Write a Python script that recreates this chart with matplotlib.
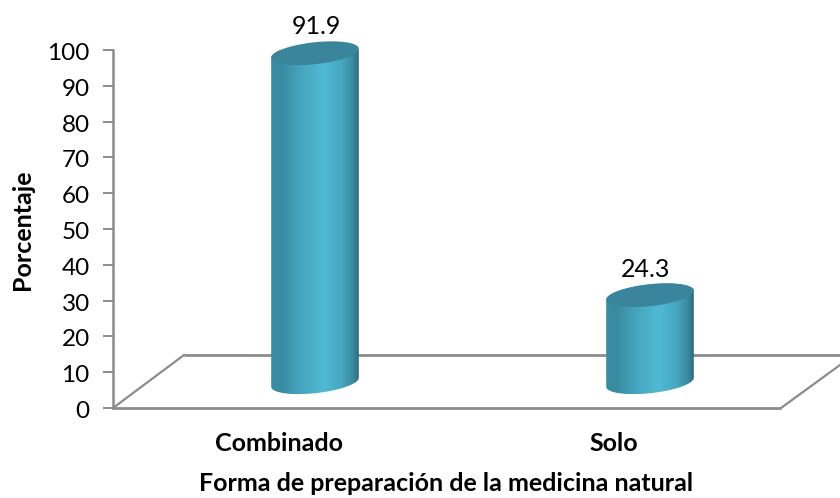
import numpy as np
import matplotlib
matplotlib.use("Agg")
import matplotlib.pyplot as plt
from matplotlib.patches import Polygon
from matplotlib.colors import LinearSegmentedColormap
from matplotlib.transforms import ScaledTranslation

categories = ["Combinado", "Solo"]
values = [91.9, 24.3]
y_ticks = list(range(0, 101, 10))
x_title = "Forma de preparación de la medicina natural"
y_title = "Porcentaje"

W, H = 840, 498
plt.rcParams['font.family'] = ['Lato', 'DejaVu Sans']
fig = plt.figure(figsize=(W / 100, H / 100), dpi=100)
L, R, T, B = 113, 840, 50, 408
ax = fig.add_axes([L / W, 1 - B / H, (R - L) / W, (B - T) / H])
PX = 335.0                # pixels per category
PY = (B - T) / 100.0      # pixels per unit
x0 = -(315 - L) / PX
x1 = (R - 315) / PX
ax.set_xlim(x0, x1)
ax.set_ylim(0, 100)
ax.patch.set_alpha(0)

def px(x):
    return x0 + (x - L) / PX

def py(y):
    return (B - y) / PY

# floor of the 3D box
grey = "#8c8c8c"
lw = 1.6
ax.plot([px(113), px(781)], [py(408), py(408)], color=grey, lw=2.0, clip_on=False, zorder=1, solid_capstyle='butt')
ax.plot([px(113), px(184)], [py(408), py(355)], color=grey, lw=lw, clip_on=False, zorder=1)
ax.plot([px(184), px(840)], [py(355), py(355)], color=grey, lw=2.0, clip_on=False, zorder=1, solid_capstyle='butt')
ax.plot([px(781), px(840)], [py(408), py(365)], color=grey, lw=lw, clip_on=False, zorder=1)

for s in ["top", "right", "bottom"]:
    ax.spines[s].set_visible(False)
ax.spines["left"].set_color(grey)
ax.spines["left"].set_linewidth(1.8)
ax.set_yticks(y_ticks)
ax.tick_params(axis='y', length=7, width=1.4, color=grey, labelsize=17.5, pad=9, labelcolor="black")
shift = ScaledTranslation(-1 / 100, -1.5 / 100, fig.dpi_scale_trans)
for lab in ax.get_yticklabels():
    lab.set_transform(lab.get_transform() + shift)
ax.set_xticks([i - 36 / PX for i in range(len(categories))])
ax.set_xticklabels(categories, fontsize=18, fontweight='bold')
ax.tick_params(axis='x', length=0, pad=17)

fig.text(22 / W, 1 - 230 / H, y_title, rotation=90, ha='center', va='center', fontsize=18, fontweight='bold')
fig.text(446 / W, 1 - 483 / H, x_title, ha='center', va='center', fontsize=18, fontweight='bold')

cmap = LinearSegmentedColormap.from_list("cyl", [
    (0.00, "#3a8da4"), (0.12, "#398ba1"), (0.35, "#46a6bf"), (0.60, "#50b9d4"),
    (0.80, "#46a8c1"), (0.93, "#3a8aa0"), (1.00, "#2d6a7c")])
grad = np.linspace(0, 1, 256).reshape(1, -1)

half_w = 43.8 / PX
base = 7.2
tilt = 4.5 / PY        # rise from left edge to centre
minor = 11.0 / PY
t = np.linspace(0, 2 * np.pi, 121)

def ellipse(xc, yc, th):
    return xc + half_w * np.cos(th), yc + tilt * np.cos(th) + minor * np.sin(th)

for i, v in enumerate(values):
    top = base + v
    ex, ey = ellipse(i, base, np.linspace(np.pi, 2 * np.pi, 61))
    tx, ty = ellipse(i, top, np.linspace(0, np.pi, 61))
    body = Polygon(np.column_stack([np.r_[ex, tx], np.r_[ey, ty]]), closed=True,
                   transform=ax.transData, fc='none', ec='none')
    ax.add_patch(body)
    im = ax.imshow(grad, cmap=cmap, aspect='auto', zorder=3,
                   extent=(i - half_w, i + half_w, base - 5, top + 5))
    im.set_clip_path(body)
    cx, cy = ellipse(i, top, t)
    ax.fill(cx, cy, color="#3a859b", zorder=4, lw=0, clip_on=False)
    ax.annotate(f"{v:.1f}", (i, top), xytext=(1 if i == 0 else -4, 27 if i == 0 else 26),
                textcoords='offset pixels', ha='center', va='center',
                fontsize=18, color='black', annotation_clip=False, zorder=5)

ax.set_xlim(x0, x1)
ax.set_ylim(0, 100)
fig.savefig("out.png", dpi=100)
